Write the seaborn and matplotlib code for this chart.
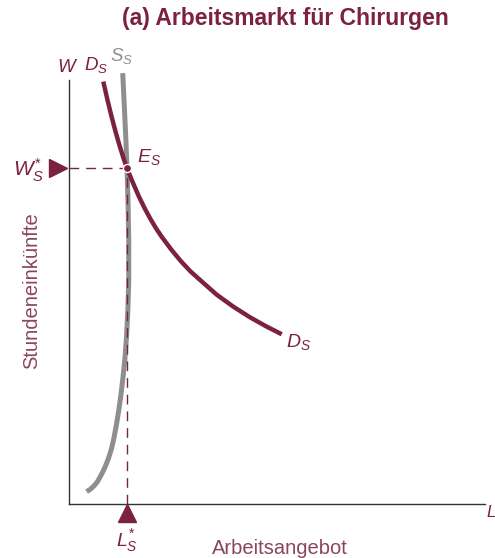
import matplotlib
matplotlib.use("Agg")
import matplotlib.pyplot as plt
import seaborn as sns
import pandas as pd

# Demand curve for surgeons' labour (hours offered vs. hourly wage)
demand_L = [8.245, 9.207, 10.168, 11.130, 12.091, 13.053, 13.94, 15.392, 16.772,
            18.149, 19.527, 20.906, 22.284, 24.591, 26.887, 29.183, 31.490, 35.493,
            39.495, 43.373, 47.252, 51.130]
demand_W = [99.60, 95.45, 91.58, 88.00, 84.69, 81.67, 79.13, 75.68, 72.57,
            69.79, 67.29, 65.02, 63.00, 59.98, 57.26, 54.86, 52.83, 49.36,
            46.53, 44.10, 41.96, 40.02]

# Supply curve (almost perfectly inelastic)
supply_L = [12.91, 13.34, 13.67, 13.94, 14.17, 14.36, 14.36, 14.15, 13.85, 13.46,
            12.91, 12.48, 11.97, 11.39, 10.71, 10.13, 9.44, 8.57, 7.53, 6.83,
            6.06, 5.14, 4.24]
supply_W = [101.58, 92.92, 85.85, 79.13, 71.70, 62.26, 52.83, 45.75, 39.86, 34.43,
            29.25, 25.71, 22.17, 18.63, 15.09, 12.74, 10.61, 8.49, 6.44, 5.26,
            4.32, 3.49, 2.90]

# Equilibrium
eq_L = 13.94
eq_W = 79.13

title = "(a) Arbeitsmarkt für Chirurgen"
x_label = "Arbeitsangebot"
y_label = "Stundeneinkünfte"

MAROON = "#7b2142"
LABEL = "#8a4560"
GRAY = "#8e8e8e"

sns.set_theme(style="white")
plt.rcParams["font.family"] = ["Liberation Sans", "DejaVu Sans"]
plt.rcParams["mathtext.fontset"] = "custom"
plt.rcParams["mathtext.it"] = "Liberation Sans:italic"
plt.rcParams["mathtext.rm"] = "Liberation Sans"
plt.rcParams["mathtext.bf"] = "Liberation Sans:bold"

fig = plt.figure(figsize=(4.95, 5.58), dpi=100)
ax = fig.add_axes([69 / 495, 54 / 558, 426 / 495, 464 / 558])
ax.set_xlim(0, 102.4)
ax.set_ylim(0, 109.4)

df_d = pd.DataFrame({"L": demand_L, "W": demand_W})
df_s = pd.DataFrame({"L": supply_L, "W": supply_W})

sns.lineplot(data=df_s, x="L", y="W", sort=False, estimator=None, ax=ax,
             color=GRAY, lw=3.6, solid_capstyle="butt", solid_joinstyle="round",
             zorder=3)
sns.lineplot(data=df_d, x="L", y="W", sort=False, estimator=None, ax=ax,
             color=MAROON, lw=3.2, solid_capstyle="butt", solid_joinstyle="round",
             zorder=4)

# Reference lines to the axes
ax.plot([0, eq_L], [eq_W, eq_W], color=MAROON, lw=1.0, ls=(0, (7, 5)), zorder=2)
ax.plot([eq_L, eq_L], [0, eq_W], color=MAROON, lw=1.0, ls=(0, (7, 5)), zorder=5)
ax.scatter([eq_L], [eq_W], s=34, color=MAROON, edgecolor="white",
           linewidth=1.0, zorder=6)

# Axis markers
ax.plot([-2.7], [eq_W], marker=">", ms=13, color=MAROON, clip_on=False, zorder=6)
ax.plot([eq_L], [-2.2], marker="^", ms=13, color=MAROON, clip_on=False, zorder=6)

# Axes
for s in ["top", "right"]:
    ax.spines[s].set_visible(False)
for s in ["left", "bottom"]:
    ax.spines[s].set_color("#333333")
    ax.spines[s].set_linewidth(1.0)
ax.spines["left"].set_bounds(0, 100)
ax.spines["bottom"].set_bounds(0, 100)
ax.set_xticks([])
ax.set_yticks([])
ax.set_xlabel("")
ax.set_ylabel("")

# Curve and axis labels
ax.text(-0.3, 103.0, r"$W$", color=MAROON, fontsize=13.5, ha="center", va="center")
ax.text(6.4, 103.5, r"$D_S$", color=MAROON, fontsize=13.5, ha="center", va="center")
ax.text(12.6, 105.7, r"$S_S$", color=GRAY, fontsize=13.5, ha="center", va="center")
ax.text(16.3, 81.8, r"$E_S$", color=MAROON, fontsize=14, ha="left", va="center")
ax.text(52.2, 38.2, r"$D_S$", color=MAROON, fontsize=14, ha="left", va="center")
ax.text(-6.0, 78.6, r"$W^{*}_{S}$", color=MAROON, fontsize=15, ha="right", va="center")
ax.text(eq_L, -8.7, r"$L^{*}_{S}$", color=MAROON, fontsize=14, ha="center", va="center")
ax.text(100.3, -1.9, r"$L$", color=MAROON, fontsize=12, ha="left", va="center",
        clip_on=False)
ax.text(50.7, -10.4, x_label, color=LABEL, fontsize=14.5, ha="center", va="center")
ax.text(-9.1, 50.3, y_label, color=LABEL, fontsize=14.5, ha="center", va="center",
        rotation=90)

fig.text(285 / 495, 1 - 18 / 558, title, color=MAROON, fontsize=16.5,
         fontweight="bold", ha="center", va="center")

fig.savefig("out.png", dpi=100)
